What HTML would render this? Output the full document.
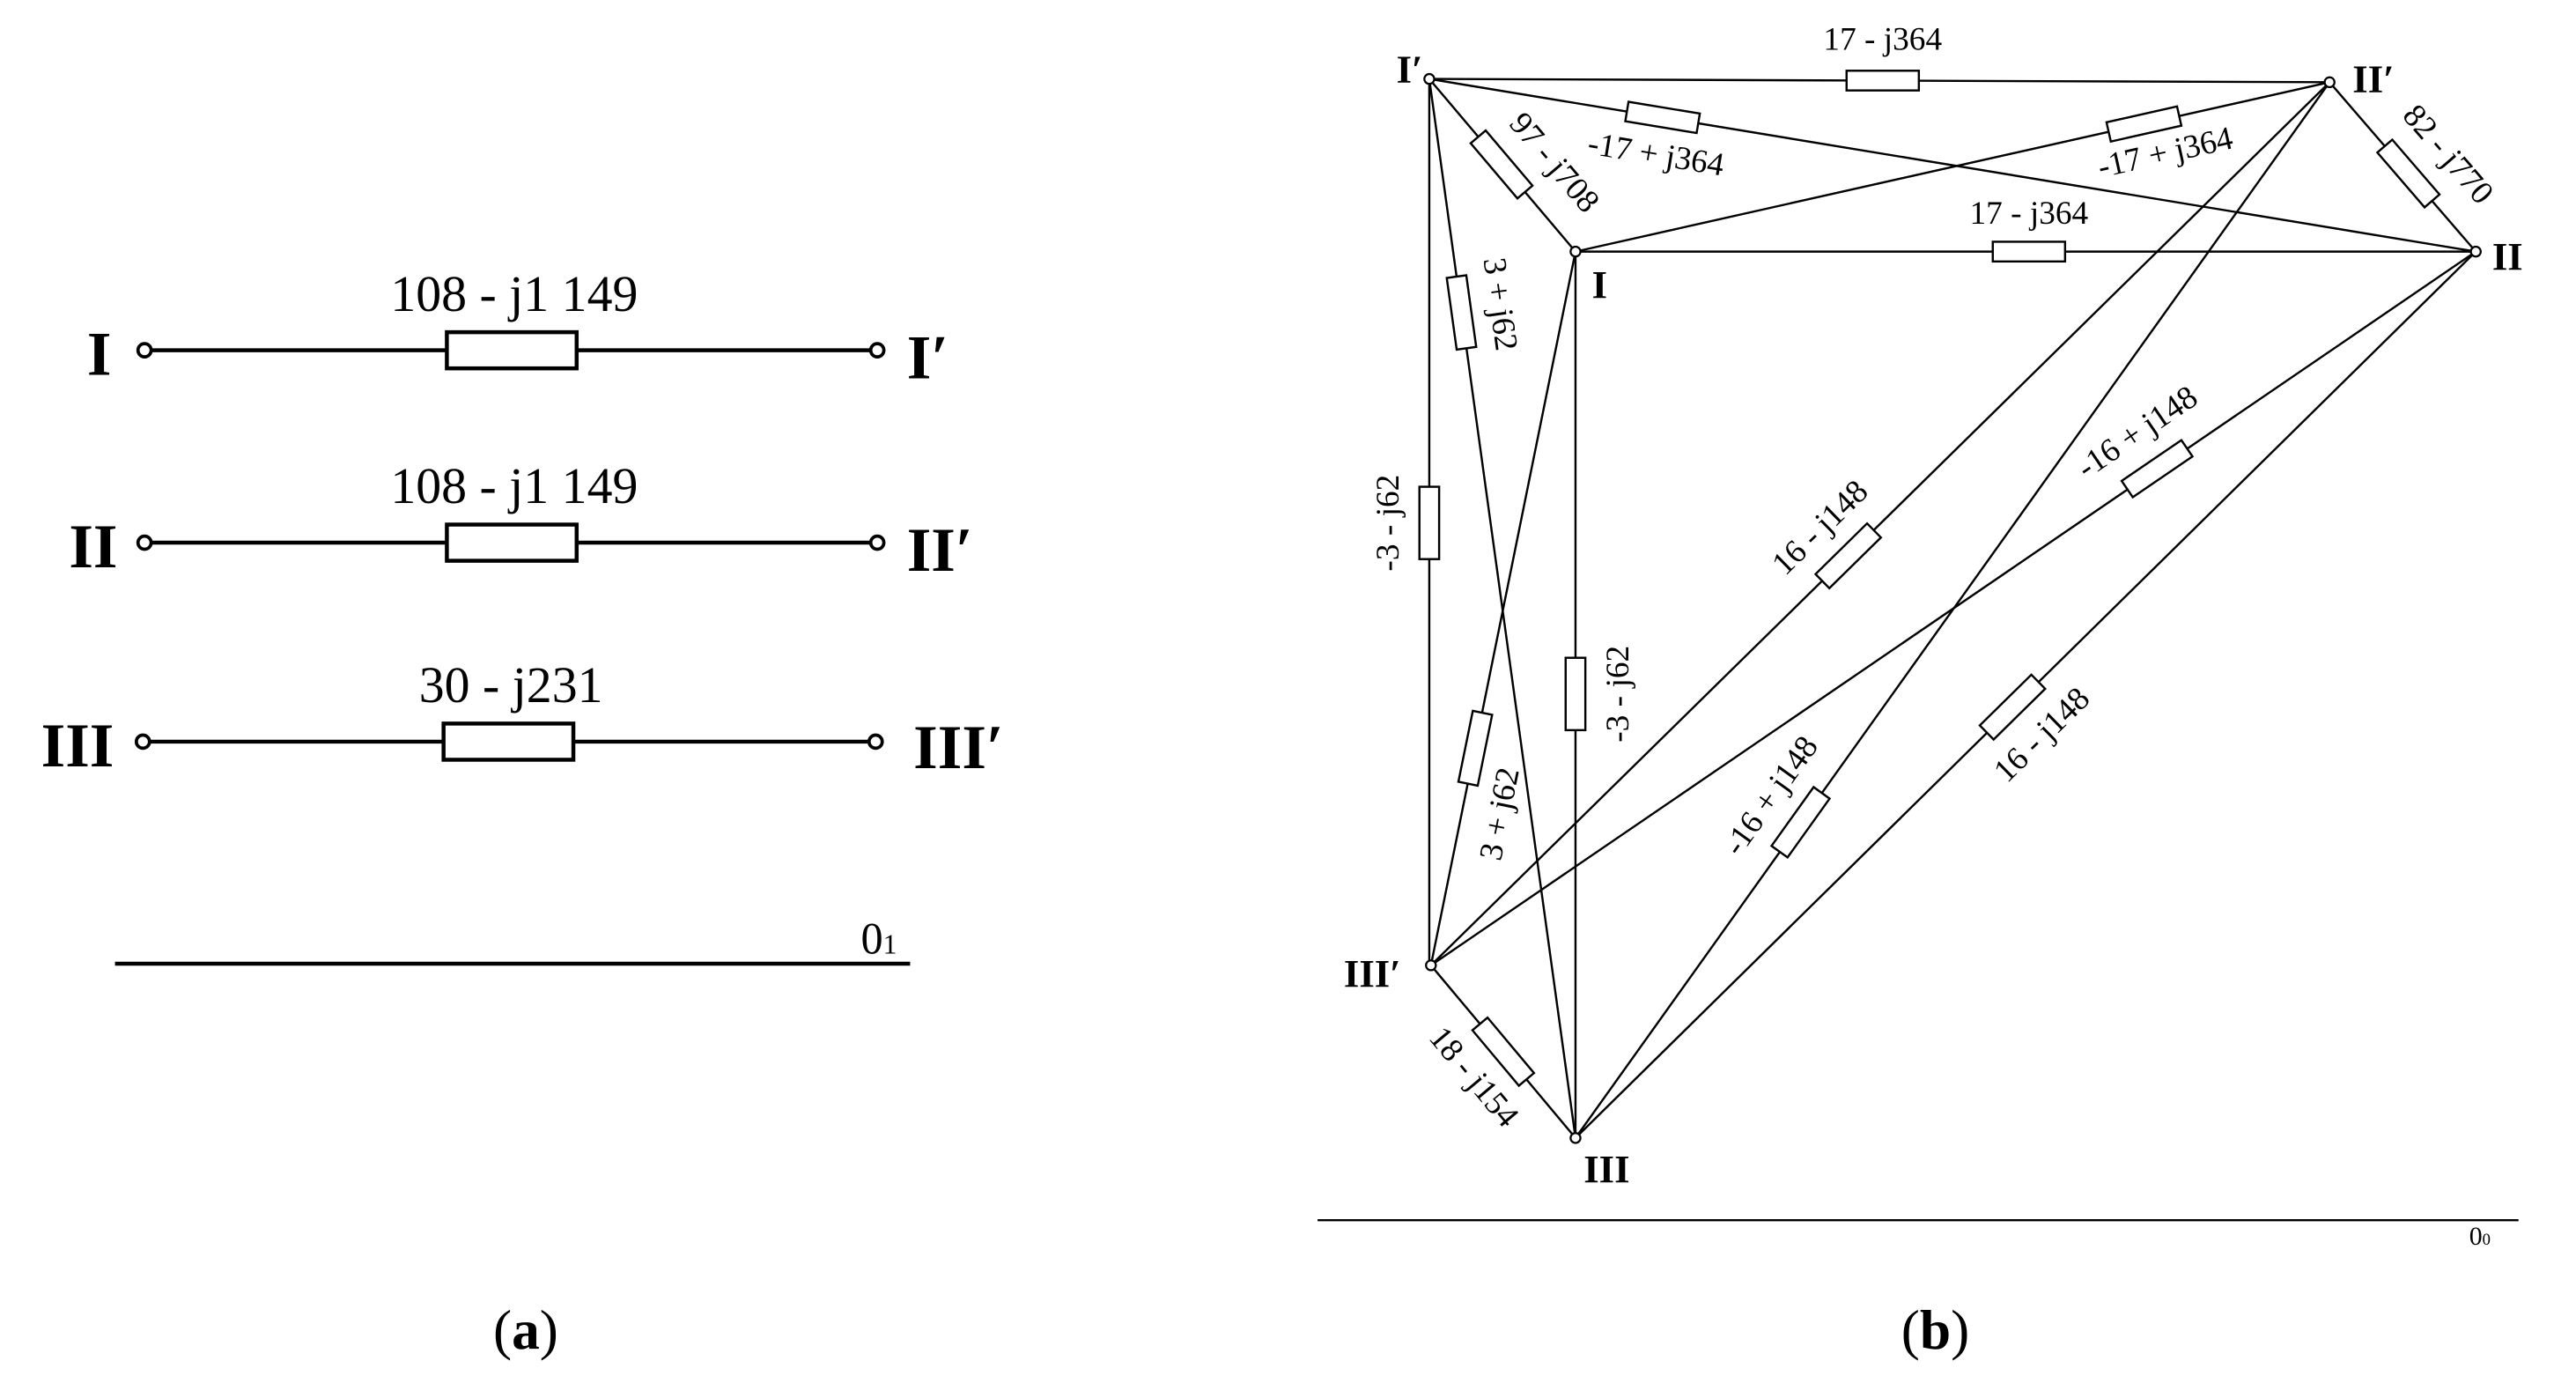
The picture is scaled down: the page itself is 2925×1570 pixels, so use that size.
<!DOCTYPE html>
<html><head><meta charset="utf-8"><style>
html,body{margin:0;padding:0;background:#fff;}
svg{display:block;}
text{font-family:"Liberation Serif",serif;fill:#000;}
</style></head><body>
<svg width="2925" height="1570" viewBox="0 0 1568 841" preserveAspectRatio="none" xmlns="http://www.w3.org/2000/svg">
<g stroke="#000" fill="none">
<g stroke-width="2.4">
<line x1="88" y1="213" x2="534" y2="213"/>
<line x1="88" y1="330" x2="534" y2="330"/>
<line x1="88" y1="451" x2="534" y2="451"/>
<rect x="272" y="202" width="79" height="22" fill="#fff"/>
<rect x="272" y="319" width="79" height="22" fill="#fff"/>
<rect x="270" y="440" width="79" height="22" fill="#fff"/>
<line x1="70" y1="586" x2="554" y2="586"/>
</g>
<g stroke-width="2" fill="#fff">
<circle cx="88" cy="213" r="4"/><circle cx="534" cy="213" r="4"/>
<circle cx="88" cy="330" r="4"/><circle cx="534" cy="330" r="4"/>
<circle cx="87" cy="451" r="4"/><circle cx="533" cy="451" r="4"/>
</g>
<g stroke-width="1.3">
<line x1="870" y1="48" x2="1418" y2="50"/>
<line x1="870" y1="48" x2="1507" y2="153"/>
<line x1="959" y1="153" x2="1418" y2="50"/>
<line x1="959" y1="153" x2="1507" y2="153"/>
<line x1="870" y1="48" x2="959" y2="153"/>
<line x1="1418" y1="50" x2="1507" y2="153"/>
<line x1="870" y1="48" x2="870" y2="587"/>
<line x1="959" y1="153" x2="959" y2="692"/>
<line x1="870" y1="48" x2="959" y2="692"/>
<line x1="959" y1="153" x2="871" y2="587"/>
<line x1="871" y1="587" x2="959" y2="692"/>
<line x1="871" y1="587" x2="1418" y2="50"/>
<line x1="871" y1="587" x2="1507" y2="153"/>
<line x1="959" y1="692" x2="1418" y2="50"/>
<line x1="959" y1="692" x2="1507" y2="153"/>
<line x1="802" y1="742" x2="1533" y2="742"/>
</g>
<g stroke-width="1.3" fill="#fff">
<rect x="-22" y="-6" width="44" height="12" transform="translate(1146,49)"/>
<rect x="-22" y="-6" width="44" height="12" transform="translate(1012,71.4) rotate(9.36)"/>
<rect x="-22" y="-6" width="44" height="12" transform="translate(1305,75.4) rotate(-12.65)"/>
<rect x="-22" y="-6" width="44" height="12" transform="translate(1235,153)"/>
<rect x="-22" y="-6" width="44" height="12" transform="translate(914,100) rotate(49.7)"/>
<rect x="-22" y="-6" width="44" height="12" transform="translate(1466,105.5) rotate(49.2)"/>
<rect x="-22" y="-6" width="44" height="12" transform="translate(870,318) rotate(90)"/>
<rect x="-22" y="-6" width="44" height="12" transform="translate(959,422) rotate(90)"/>
<rect x="-22" y="-6" width="44" height="12" transform="translate(889.6,190) rotate(82.1)"/>
<rect x="-22" y="-6" width="44" height="12" transform="translate(898,455) rotate(-78.5)"/>
<rect x="-22" y="-6" width="44" height="12" transform="translate(915,639.5) rotate(50)"/>
<rect x="-22" y="-6" width="44" height="12" transform="translate(1125,338) rotate(-44.5)"/>
<rect x="-22" y="-6" width="44" height="12" transform="translate(1313,285) rotate(-34.3)"/>
<rect x="-22" y="-6" width="44" height="12" transform="translate(1096,500) rotate(-54.4)"/>
<rect x="-22" y="-6" width="44" height="12" transform="translate(1225,430) rotate(-44.5)"/>
</g>
<g stroke-width="1.2" fill="#fff">
<circle cx="870" cy="48" r="3"/><circle cx="1418" cy="50" r="3"/>
<circle cx="959" cy="153" r="3"/><circle cx="1507" cy="153" r="3"/>
<circle cx="871" cy="587" r="3"/><circle cx="959" cy="692" r="3"/>
</g>
</g>
<g font-size="31" text-anchor="middle">
<text x="313" y="189">108 - j1 149</text>
<text x="313" y="306">108 - j1 149</text>
<text x="311" y="427">30 - j231</text>
</g>
<g font-size="38" font-weight="bold">
<text x="53" y="228">I</text>
<text x="552" y="230">I′</text>
<text x="42" y="345">II</text>
<text x="552" y="347">II′</text>
<text x="25" y="466">III</text>
<text x="556" y="467">III′</text>
</g>
<text x="524" y="580" font-size="27">0<tspan font-size="17">1</tspan></text>
<g font-size="24" font-weight="bold">
<text x="850" y="50">I′</text>
<text x="1432" y="56">II′</text>
<text x="969" y="181">I</text>
<text x="1517" y="164">II</text>
<text x="818" y="600">III′</text>
<text x="964" y="719">III</text>
</g>
<text x="1503" y="757" font-size="16">0<tspan font-size="10">0</tspan></text>
<g font-size="20" text-anchor="middle" dominant-baseline="central">
<text x="1146" y="24">17 - j364</text>
<text x="1235" y="130">17 - j364</text>
<text transform="translate(1008,94) rotate(9.36)">-17 + j364</text>
<text transform="translate(1318,93) rotate(-12.65)">-17 + j364</text>
<text transform="translate(946,99) rotate(49.7)">97 - j708</text>
<text transform="translate(1490,94) rotate(49.2)">82 - j770</text>
<text transform="translate(845,318) rotate(-90)">-3 - j62</text>
<text transform="translate(985,422) rotate(-90)">-3 - j62</text>
<text transform="translate(913,185) rotate(82.1)">3 + j62</text>
<text transform="translate(913,495) rotate(-78.5)">3 + j62</text>
<text transform="translate(897,655) rotate(50)">18 - j154</text>
<text transform="translate(1108,321) rotate(-44.5)">16 - j148</text>
<text transform="translate(1301,263) rotate(-34.3)">-16 + j148</text>
<text transform="translate(1078,484) rotate(-54.4)">-16 + j148</text>
<text transform="translate(1243,447) rotate(-44.5)">16 - j148</text>
</g>
<g font-size="34" text-anchor="middle">
<text x="320" y="820">(<tspan font-weight="bold">a</tspan>)</text>
<text x="1178" y="820">(<tspan font-weight="bold">b</tspan>)</text>
</g>
</svg>
</body></html>
